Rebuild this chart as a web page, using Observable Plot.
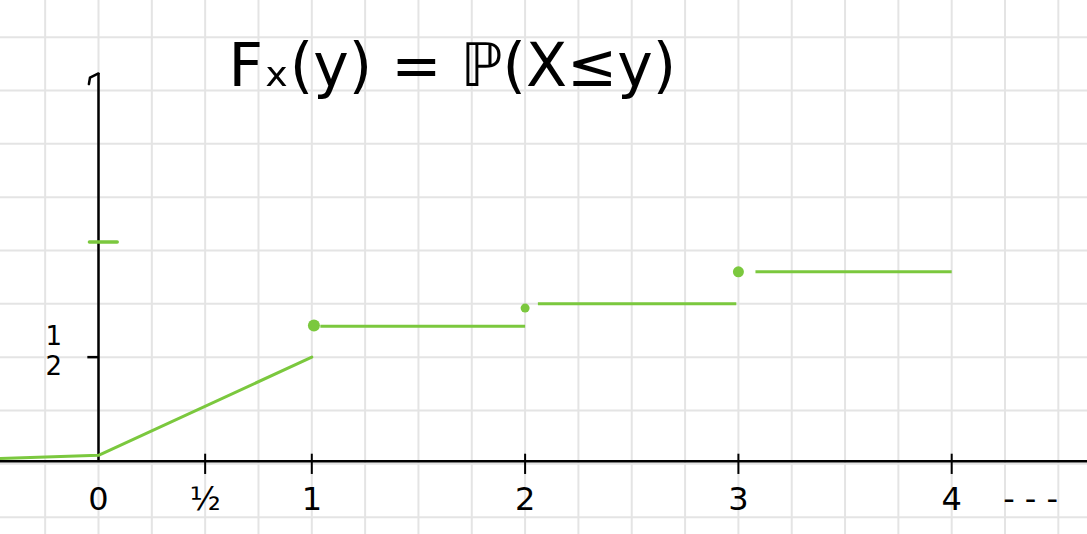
<!DOCTYPE html>
<html>
<head>
<meta charset="utf-8">
<script src="https://cdn.jsdelivr.net/npm/d3@7"></script>
<script src="https://cdn.jsdelivr.net/npm/@observablehq/plot@0.6"></script>
<style>
  html, body { margin: 0; padding: 0; background: #ffffff; }
  #chart svg { display: block; }
</style>
</head>
<body>
<div id="chart"></div>
<script>
// ---- data ----
const titleText = "Fₓ(y) = ℙ(X≤y)";
const xTickValues = [0.5, 1, 2, 3, 4];
const xLabelValues = [0, 0.5, 1, 2, 3, 4];
const xLabelTexts = ["0", "½", "1", "2", "3", "4"];
const yTickValues = [0.5];
const yLabelTexts = ["1\n2"];
const yOneMark = [1.04];
const rampX = [-0.46, 0, 1];
const rampY = [0.025, 0.04, 0.5];
const stepStart = [1.04, 2.06, 3.08];
const stepEnd = [2.0, 2.99, 4.0];
const stepLevel = [0.645, 0.75, 0.9];
const dotX = [1.01, 2.0, 3.0];
const dotY = [0.648, 0.73, 0.9];
const dotSize = [6, 4.5, 5.5];
const axisTop = 1.83;
const xAxisLevel = 0.012;
const ellipsisText = "- - -";
const ellipsisAt = 4.37;

const W = 1087, H = 534;
const unit = 213.3;          // pixels per unit on both axes
const x0px = 98, y0px = 463.3;
const green = "#7bc83e";
const ink = "#000000";

const ramp = rampX.map((x, i) => ({x, y: rampY[i]}));
const steps = stepStart.map((s, i) => ({x1: s, x2: stepEnd[i], y: stepLevel[i]}));
const dots = dotX.map((x, i) => ({x, y: dotY[i], r: dotSize[i]}));
const xLabels = xLabelValues.map((v, i) => ({x: v, t: xLabelTexts[i]}));

const font = "DejaVu Sans, sans-serif";

const chart = Plot.plot({
  width: W,
  height: H,
  marginTop: 0, marginRight: 0, marginBottom: 0, marginLeft: 0,
  style: {background: "#ffffff", overflow: "hidden", fontFamily: font},
  x: {domain: [-x0px / unit, (W - x0px) / unit], range: [0, W], axis: null},
  y: {domain: [(y0px - H) / unit, y0px / unit], range: [H, 0], axis: null},
  r: {type: "identity"},
  marks: [
    // paper grid
    Plot.gridX(d3.range(-0.25, 4.75, 0.25), {stroke: "#e4e4e4", strokeOpacity: 1, strokeWidth: 2}),
    Plot.gridY(d3.range(-0.25, 2.25, 0.25), {stroke: "#e4e4e4", strokeOpacity: 1, strokeWidth: 2}),
    // axes
    Plot.ruleY([xAxisLevel], {stroke: ink, strokeWidth: 2.5}),
    Plot.ruleX([0], {y1: xAxisLevel, y2: axisTop, stroke: ink, strokeWidth: 2.5}),
    Plot.line([{x: 0, y: axisTop}, {x: -0.04, y: axisTop - 0.02}, {x: -0.045, y: axisTop - 0.05}],
      {x: "x", y: "y", stroke: ink, strokeWidth: 2.5, strokeLinecap: "round", strokeLinejoin: "round"}),
    // ticks
    Plot.ruleX(xTickValues, {y1: -0.05, y2: 0.045, stroke: ink, strokeWidth: 2}),
    Plot.ruleY(yTickValues, {x1: -0.05, x2: 0, stroke: ink, strokeWidth: 2.5}),
    Plot.ruleY(yOneMark, {x1: -0.04, x2: 0.09, stroke: green, strokeWidth: 3.5, strokeLinecap: "round"}),
    // tick labels
    Plot.text(xLabels, {x: "x", y: -0.17, text: "t", fontSize: 32, fill: ink, fontFamily: font}),
    Plot.text(yLabelTexts, {x: -0.21, y: 0.53, text: d => d, fontSize: 26, lineHeight: 1.15, fill: ink, fontFamily: font}),
    Plot.text([ellipsisText], {x: ellipsisAt, y: -0.17, text: d => d, fontSize: 32, fill: ink, fontFamily: font}),
    // CDF
    Plot.line(ramp, {x: "x", y: "y", stroke: green, strokeWidth: 3}),
    Plot.link(steps, {x1: "x1", x2: "x2", y1: "y", y2: "y", stroke: green, strokeWidth: 3}),
    Plot.dot(dots, {x: "x", y: "y", r: "r", fill: green, stroke: "none"}),
    // title
    Plot.text([titleText], {x: 0.61, y: 1.86, text: d => d, textAnchor: "start", fontSize: 60, fill: ink, fontFamily: font})
  ]
});

document.getElementById("chart").appendChild(chart);
</script>
</body>
</html>
